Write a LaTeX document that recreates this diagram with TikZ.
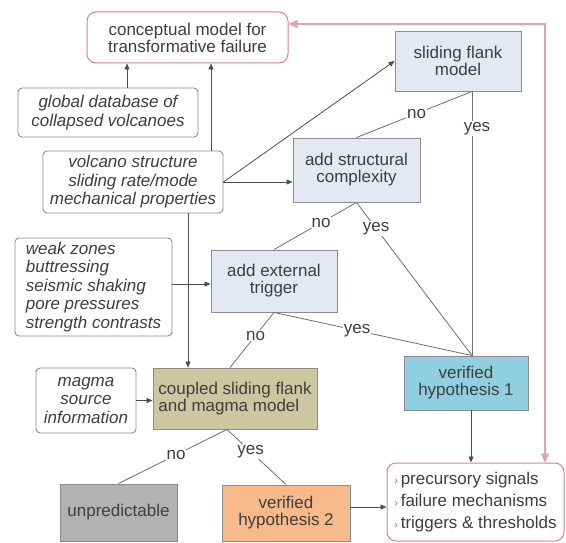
\documentclass[tikz,border=0pt]{standalone}
\usepackage{fontspec}
\setmainfont{Liberation Sans}
\usetikzlibrary{arrows.meta,calc,shadows}
\definecolor{txt}{HTML}{3E3E3E}
\definecolor{boxline}{HTML}{8C8C8C}
\definecolor{redline}{HTML}{D5838E}
\definecolor{redarrow}{HTML}{E0A3AB}
\definecolor{bluefill}{HTML}{E3E8F2}
\definecolor{khaki}{HTML}{CEC69E}
\definecolor{skyfill}{HTML}{8FCFE0}
\definecolor{grayfill}{HTML}{B2B2B2}
\definecolor{orangefill}{HTML}{F8BA8A}
\definecolor{conn}{HTML}{6E6E6E}
\tikzset{
  sz/.style 2 args={minimum width=#1pt, minimum height=#2pt},
  basebox/.style={draw=boxline, line width=0.9pt, text=txt, align=center, inner sep=0pt},
  redbox/.style={basebox, draw=redline, line width=1pt, rounded corners=9pt, fill=white},
  infobox/.style={basebox, rounded corners=4pt, fill=white, font=\fontsize{17}{18.5}\selectfont\itshape},
  shade/.style={drop shadow={shadow xshift=1.2pt, shadow yshift=-1.2pt, opacity=0.18, fill=black}},
  modelbox/.style={basebox, fill=bluefill, shade},
  lbl/.style={fill=white, inner sep=1pt, text=txt},
  conline/.style={draw=conn, line width=0.8pt},
  arr/.style={draw=conn!70!black, line width=0.8pt, -{Triangle[width=5pt,length=6pt]}},
  redarr/.style={draw=redarrow, line width=1.2pt, {Triangle[width=8pt,length=9pt,fill=redarrow]}-{Triangle[width=8pt,length=9pt,fill=redarrow]}}
}
\begin{document}
\begin{tikzpicture}[x=1pt, y=-1pt, font=\fontsize{17}{17}\selectfont]
\useasboundingbox (0,0) rectangle (566,543);

% nodes
\node[redbox, sz={201}{51}] (cm) at (187.5,37.5) {conceptual model for\\transformative failure};
\node[infobox, sz={180}{49}] (gdb) at (108,112.5) {global database of\\collapsed volcanoes};
\node[infobox, sz={180}{62}] (vs) at (133,182) {volcano structure\\sliding rate/mode\\mechanical properties};
\node[modelbox, sz={126}{60}] (sfm) at (458,61) {sliding flank\\model};
\node[modelbox, sz={127}{64}] (asc) at (356.5,170) {add structural\\complexity};
\node[infobox, sz={157}{98}, align=left] (wz) at (93.5,287) {weak zones\\buttressing\\seismic shaking\\pore pressures\\strength contrasts};
\node[modelbox, sz={126}{62}] (aet) at (274,281) {add external\\trigger};
\node[basebox, fill=khaki, shade, sz={164}{61}, align=left] (csf) at (235,398.5) {coupled sliding flank\\and magma model};
\node[infobox, sz={100}{65}] (ms) at (86,400.5) {magma\\source\\information};
\node[basebox, fill=skyfill, shade, sz={124}{54}] (vh1) at (466,383) {verified\\hypothesis 1};
\node[basebox, fill=grayfill, shade, sz={117}{57}] (unp) at (118.5,512.5) {unpredictable};
\node[basebox, fill=orangefill, shade, sz={128}{56}] (vh2) at (286,513) {verified\\hypothesis 2};
\node[redbox, sz={177}{78}, align=left] (res) at (475.5,502)
  {{\color{gray}\fontsize{11}{11}\selectfont ›}\,precursory signals\\[5pt]
   {\color{gray}\fontsize{11}{11}\selectfont ›}\,failure mechanisms\\[5pt]
   {\color{gray}\fontsize{11}{11}\selectfont ›}\,triggers \& thresholds};

% arrows into nodes
\draw[arr] ([xshift=19pt]gdb.north) -- ([xshift=19pt]gdb.north |- cm.south);
\draw[arr] ([xshift=78pt]vs.north) -- ([xshift=78pt]vs.north |- cm.south);
\draw[arr] (vs.east) -- (sfm.west);
\draw[arr] (vs.east) -- (vs.east -| asc.west);
\draw[arr] ([xshift=55pt]vs.south) -- ([xshift=55pt]vs.south |- csf.north);
\draw[arr] ([yshift=3pt]wz.east) -- ([yshift=3pt]wz.east -| aet.west);
\draw[arr] (ms.east) -- (ms.east -| csf.west);
\draw[arr] ([xshift=5pt]vh1.south) -- ([xshift=5pt]vh1.south |- res.north);
\draw[arr] ([yshift=6pt]vh2.east) -- ([yshift=6pt]vh2.east -| res.west);

% decision lines
\draw[conline] ([xshift=14pt]sfm.south) -- node[lbl, pos=0.48] {no} (asc.north);
\draw[conline] ([xshift=14pt]sfm.south) -- node[lbl, pos=0.14, xshift=5pt] {yes} ([xshift=6pt]vh1.north);
\draw[conline] (asc.south) -- node[lbl, pos=0.43] {no} (aet.north);
\draw[conline] (asc.south) -- node[lbl, pos=0.17] {yes} ([xshift=6pt]vh1.north);
\draw[conline] (aet.south) -- node[lbl, pos=0.42] {yes} ([xshift=6pt]vh1.north);
\draw[conline] (aet.south) -- node[lbl, pos=0.42] {no} ([xshift=-5pt]csf.north);
\draw[conline] ([xshift=-8pt]csf.south) -- node[lbl, pos=0.47] {no} (unp.north);
\draw[conline] ([xshift=-8pt]csf.south) -- node[lbl, pos=0.4] {yes} (vh2.north);

% red feedback arrow
\draw[redarr] ([yshift=13.5pt]cm.east) -| ([xshift=69.5pt]res.north);
\end{tikzpicture}
\end{document}
